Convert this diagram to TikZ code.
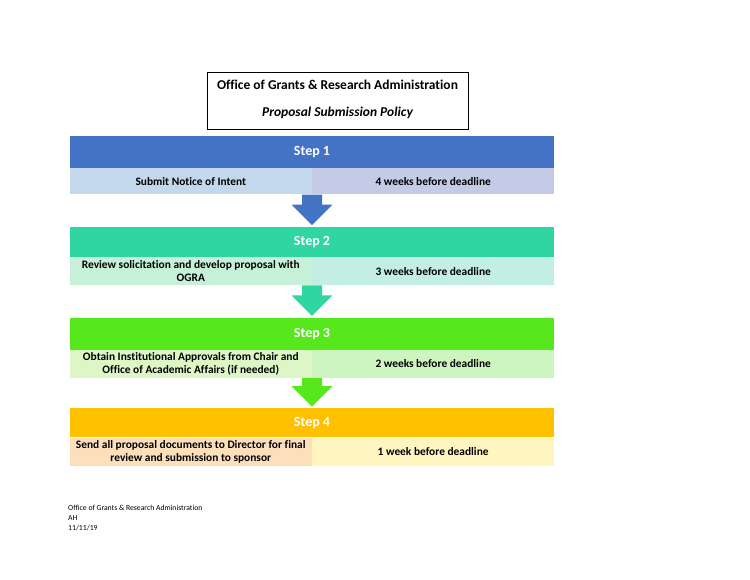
\documentclass[tikz,border=0pt]{standalone}
\usepackage{fontspec}
\setmainfont{Carlito}[Ligatures=NoCommon]
\usepackage{tikz}
\usetikzlibrary{calc,positioning}

\definecolor{stepone}{HTML}{4472C4}
\definecolor{onel}{HTML}{C3D8EC}
\definecolor{oner}{HTML}{C4CBE6}
\definecolor{steptwo}{HTML}{30D6A2}
\definecolor{twol}{HTML}{C6F0D7}
\definecolor{twor}{HTML}{C2EEE4}
\definecolor{stepthree}{HTML}{56E81C}
\definecolor{threel}{HTML}{DCF6C6}
\definecolor{threer}{HTML}{CCF5C0}
\definecolor{stepfour}{HTML}{FFC000}
\definecolor{fourl}{HTML}{FDDFBC}
\definecolor{fourr}{HTML}{FFF5C0}

\tikzset{
	header/.style={shape=rectangle,minimum width=484pt,inner sep=0pt,text=white,font=\fontsize{14}{16}\selectfont\bfseries},
	cell/.style={shape=rectangle,minimum width=242pt,minimum height=28pt,inner sep=0pt,align=center,font=\fontsize{11.4}{12.5}\selectfont\bfseries}
}

% down arrow between two steps: from, to, colour
\newcommand{\flowarrow}[3]{%
	\fill[#3] let \p1=(#1), \p2=(#2) in
		(\x1-10pt,\y1) -- (\x1+10pt,\y1) -- (\x1+10pt,\y2+22pt) -- (\x1+20.5pt,\y2+22pt)
		-- (\x1,\y2+1.5pt) -- (\x1-20.5pt,\y2+22pt) -- (\x1-10pt,\y2+22pt) -- cycle;}

\begin{document}
\begin{tikzpicture}[x=1pt,y=1pt]
		\useasboundingbox (0,0) rectangle (750,-579);
		\node(title) [draw,line width=1pt,minimum width=261pt,minimum height=57pt,align=center,font=\fontsize{13.5}{16}\selectfont\bfseries] at (337.5,-100.5)
			{Office of Grants \& Research Administration\\[11pt]\itshape Proposal Submission Policy\\[-12pt]};

		\node(h1) [header,fill=stepone,minimum height=32pt] at (312,-152) {Step 1};
		\node(b1l) [cell,fill=onel,minimum height=26pt,below left=0pt of h1.south] {Submit Notice of Intent};
		\node(b1r) [cell,fill=oner,minimum height=26pt,below right=0pt of h1.south] {4 weeks before deadline};

		\node(h2) [header,fill=steptwo,minimum height=30pt,below=32pt of b1l.south east] {Step 2};
		\node(b2l) [cell,fill=twol,below left=0pt of h2.south] {Review solicitation and develop proposal with\\OGRA};
		\node(b2r) [cell,fill=twor,below right=0pt of h2.south] {3 weeks before deadline};

		\node(h3) [header,fill=stepthree,minimum height=32pt,below=32pt of b2l.south east] {Step 3};
		\node(b3l) [cell,fill=threel,below left=0pt of h3.south] {Obtain Institutional Approvals from Chair and\\Office of Academic Affairs (if needed)};
		\node(b3r) [cell,fill=threer,below right=0pt of h3.south] {2 weeks before deadline};

		\node(h4) [header,fill=stepfour,minimum height=29pt,below=30pt of b3l.south east] {Step 4};
		\node(b4l) [cell,fill=fourl,below left=0pt of h4.south] {Send all proposal documents to Director for final\\review and submission to sponsor};
		\node(b4r) [cell,fill=fourr,below right=0pt of h4.south] {1 week before deadline};

		\flowarrow{b1l.south east}{h2.north}{stepone}
		\flowarrow{b2l.south east}{h3.north}{steptwo}
		\flowarrow{b3l.south east}{h4.north}{stepthree}

		\node(foot) [anchor=north west,align=left,inner sep=0pt,font=\fontsize{7.7}{10}\selectfont] at (68,-505)
			{Office of Grants \& Research Administration\\AH\\11/11/19};
	\end{tikzpicture}
\end{document}
